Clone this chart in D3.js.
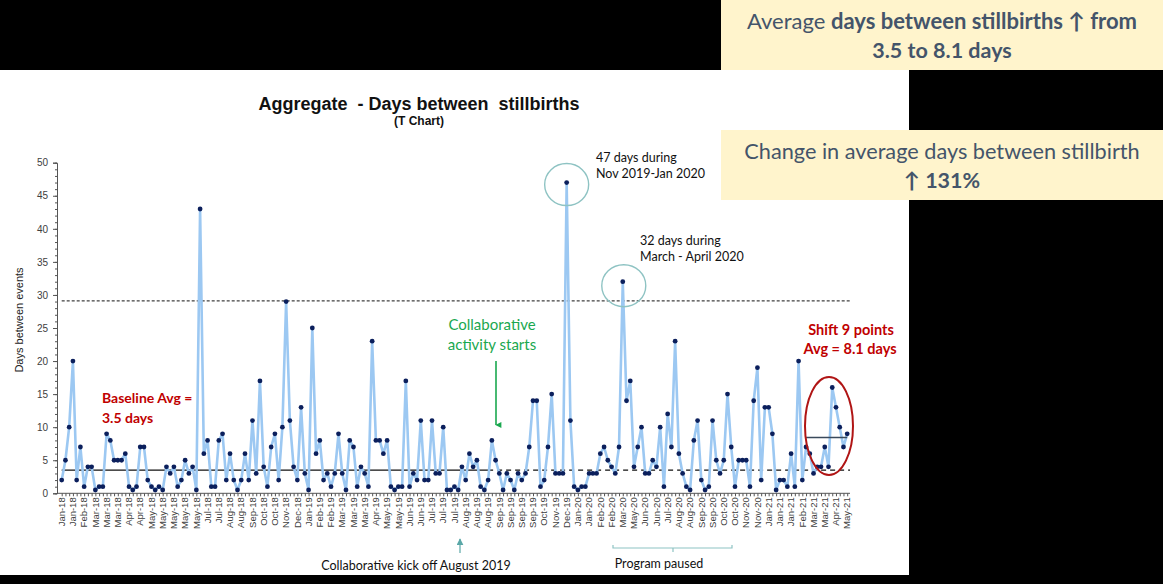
<!DOCTYPE html>
<html><head><meta charset="utf-8">
<script src="https://cdn.jsdelivr.net/npm/d3@7"></script>
<style>body{margin:0;background:#000;} svg{display:block}</style>
</head><body>
<svg id="c" width="1163" height="584"></svg>
<script>
// ---------- DATA ----------
const values = [
  2,5,10,20,2,7,1,4,4,0.5,
  1,1,9,8,5,5,5,6,1,0.5,
  1,7,7,2,1,0.5,1,0.5,4,3,
  4,1,2,5,3,4,0.5,43,6,8,
  1,1,8,9,2,6,2,0.5,2,6,
  2,11,3,17,4,1,7,9,2,10,
  29,11,4,2,13,3,0.5,25,6,8,
  2,3,1,3,9,3,0.5,8,7,1,
  4,3,1,23,8,8,6,8,1,0.5,
  1,1,17,1,3,2,11,2,2,11,
  3,3,10,0.5,0.5,1,0.5,4,2,6,
  4,5,1,0.5,2,8,5,3,0.5,3,
  2,0.5,3,2,3,7,14,14,1,2,
  7,15,3,3,3,47,11,1,0.5,1,
  1,3,3,3,6,7,5,4,3,7,
  32,14,17,4,7,10,3,3,5,4,
  10,1,12,7,23,6,3,1,0.5,8,
  11,2,0.5,1,11,5,3,5,15,7,
  1,5,5,5,1,14,19,2,13,13,
  9,0.5,2,2,1,6,1,20,2,7,
  6,3,4,4,7,4,16,13,10,7,9
];
const tickLabels = [
  "Jan-18","Jan-18","Feb-18","Mar-18","Mar-18","Mar-18","Apr-18","Apr-18","May-18","May-18",
  "May-18","May-18","May-18","Jul-18","Jul-18","Aug-18","Aug-18","Sep-18","Oct-18","Oct-18",
  "Nov-18","Dec-18","Jan-19","Feb-19","Feb-19","Mar-19","Mar-19","Mar-19","Apr-19","May-19",
  "May-19","Jun-19","Jun-19","Jul-19","Jul-19","Jul-19","Aug-19","Aug-19","Aug-19","Sep-19",
  "Sep-19","Sep-19","Sep-19","Oct-19","Nov-19","Dec-19","Jan-20","Jan-20","Feb-20","Feb-20",
  "Mar-20","May-20","Jun-20","Jun-20","Jul-20","Aug-20","Aug-20","Sep-20","Sep-20","Oct-20",
  "Oct-20","Nov-20","Nov-20","Jan-21","Jan-21","Jan-21","Feb-21","Mar-21","Mar-21","Apr-21",
  "May-21"
];
const labelEvery = 3;
const yTicks = [0,5,10,15,20,25,30,35,40,45,50];
const baselineAvg = 3.5;
const baselineSolidEnd = 114;   // index where the baseline turns dashed
const upperLimit = 29.1;
const shiftAvg = 8.45;
const shiftStart = 199;          // index range of the shift line
const shiftEnd = 210;

// ---------- SETUP ----------
const svg = d3.select("#c");
const W = 1163, H = 584;
const ARIAL = "'Liberation Sans', Arial, sans-serif";
const CAL = "Lato, 'Open Sans', sans-serif";

// backgrounds
svg.append("rect").attr("x",0).attr("y",0).attr("width",W).attr("height",H).attr("fill","#000");
svg.append("rect").attr("x",0).attr("y",70).attr("width",909).attr("height",505).attr("fill","#fff");
svg.append("rect").attr("x",721).attr("y",0).attr("width",442).attr("height",70).attr("fill","#fff4cc");
svg.append("rect").attr("x",721).attr("y",130).attr("width",442).attr("height",70).attr("fill","#fff4cc");

const idx = d3.range(values.length);
const x = d3.scaleLinear().domain([0, values.length-1]).range([61.7, 847.2]);
const y = d3.scaleLinear().domain([0, 50]).range([493.3, 162.7]);

// ---------- AXES ----------
const yAxisX = 57;
const gy = svg.append("g").attr("transform",`translate(${yAxisX},0)`)
  .call(d3.axisLeft(y).tickValues(yTicks).tickSize(4).tickPadding(5).tickFormat(d3.format("d")));
gy.select(".domain").attr("stroke","#555");
gy.selectAll(".tick line").attr("stroke","#555");
gy.selectAll("text").attr("font-family",ARIAL).attr("font-size",10).attr("fill","#404040");
svg.append("g").attr("transform",`translate(${yAxisX},0)`)
  .call(d3.axisLeft(y).tickValues(d3.range(0,51,1)).tickSize(2).tickFormat(""))
  .call(g=>g.select(".domain").remove())
  .selectAll(".tick line").attr("stroke","#555");

// x axis
const gx = svg.append("g").attr("transform",`translate(0,${y(0)})`)
  .call(d3.axisBottom(x).tickValues(idx).tickSize(3).tickFormat(""));
gx.select(".domain").attr("d",`M${yAxisX},0H850`).attr("stroke","#555");
gx.selectAll(".tick line").attr("stroke","#555");

// x labels every 3rd point
svg.append("g").selectAll("text").data(tickLabels).join("text")
  .attr("transform",(d,i)=>`translate(${x(i*labelEvery)+3.2},${y(0)+4}) rotate(-90)`)
  .attr("text-anchor","end")
  .attr("font-family",ARIAL).attr("font-size",9.5).attr("fill","#404040")
  .text(d=>d);

// y axis title
svg.append("text").attr("transform","translate(23,320) rotate(-90)")
  .attr("text-anchor","middle").attr("font-family",ARIAL).attr("font-size",11).attr("fill","#222")
  .text("Days between events");

// title
svg.append("text").attr("x",419).attr("y",110).attr("text-anchor","middle")
  .attr("font-family",ARIAL).attr("font-weight","bold").attr("font-size",18).attr("fill","#111")
  .attr("xml:space","preserve").style("white-space","pre")
  .text("Aggregate  - Days between  stillbirths");
svg.append("text").attr("x",419).attr("y",125).attr("text-anchor","middle")
  .attr("font-family",ARIAL).attr("font-weight","bold").attr("font-size",12).attr("fill","#111")
  .text("(T Chart)");

// ---------- REFERENCE LINES ----------
svg.append("line").attr("x1",x(0)).attr("x2",850).attr("y1",y(upperLimit)).attr("y2",y(upperLimit))
  .attr("stroke","#111").attr("stroke-width",1).attr("stroke-dasharray","3,2");
svg.append("line").attr("x1",x(0)).attr("x2",x(baselineSolidEnd)).attr("y1",y(baselineAvg)).attr("y2",y(baselineAvg))
  .attr("stroke","#111").attr("stroke-width",1.3);
svg.append("line").attr("x1",x(baselineSolidEnd)).attr("x2",850).attr("y1",y(baselineAvg)).attr("y2",y(baselineAvg))
  .attr("stroke","#111").attr("stroke-width",1.3).attr("stroke-dasharray","5,4");

// ---------- SERIES ----------
svg.append("path").datum(values)
  .attr("d", d3.line().x((d,i)=>x(i)).y(d=>y(d)))
  .attr("fill","none").attr("stroke","#9cc8f2").attr("stroke-width",2.6).attr("stroke-linejoin","round");

svg.append("line").attr("x1",x(shiftStart)).attr("x2",x(shiftEnd)).attr("y1",y(shiftAvg)).attr("y2",y(shiftAvg))
  .attr("stroke","#3a4a5c").attr("stroke-width",1.6);

svg.append("g").selectAll("circle").data(values).join("circle")
  .attr("cx",(d,i)=>x(i)).attr("cy",d=>y(d)).attr("r",2.4).attr("fill","#0b1f5c");

// ---------- ANNOTATIONS ----------
const i47 = values.indexOf(47), i32 = values.indexOf(32);
svg.append("ellipse").attr("cx",x(i47)).attr("cy",y(47)+2).attr("rx",22).attr("ry",21)
  .attr("fill","none").attr("stroke","#8ec3c3").attr("stroke-width",1.4);
svg.append("ellipse").attr("cx",x(i32)+1).attr("cy",y(32)+4).attr("rx",22).attr("ry",21)
  .attr("fill","none").attr("stroke","#8ec3c3").attr("stroke-width",1.4);
svg.append("ellipse").attr("cx",829).attr("cy",426).attr("rx",24).attr("ry",49)
  .attr("fill","none").attr("stroke","#b01515").attr("stroke-width",2);

function txt(xx, yy, s, opt={}) {
  return svg.append("text").attr("x",xx).attr("y",yy)
    .attr("text-anchor",opt.anchor||"start")
    .attr("font-family",opt.font||CAL).attr("font-size",opt.size||12)
    .attr("font-weight",opt.weight||"normal").attr("fill",opt.fill||"#111").text(s);
}
txt(596,162,"47 days during",{size:12.5});
txt(596,178,"Nov 2019-Jan 2020",{size:12.5});
txt(640,245,"32 days during",{size:12.5});
txt(640,261,"March - April 2020",{size:12.5});

txt(492,330,"Collaborative",{size:15,anchor:"middle",fill:"#1aa84f"});
txt(492,350,"activity starts",{size:15,anchor:"middle",fill:"#1aa84f"});
svg.append("defs").html(`
 <marker id="ag" viewBox="0 0 10 10" refX="5" refY="9" markerWidth="6" markerHeight="7" orient="auto-start-reverse" markerUnits="userSpaceOnUse">
  <path d="M0,0 L10,0 L5,10 z" fill="#1aa84f"/></marker>
 <marker id="at" viewBox="0 0 10 10" refX="5" refY="1" markerWidth="7" markerHeight="7" markerUnits="userSpaceOnUse">
  <path d="M0,10 L10,10 L5,0 z" fill="#5aa7a7"/></marker>`);
svg.append("line").attr("x1",496).attr("x2",496).attr("y1",361).attr("y2",425)
  .attr("stroke","#1aa84f").attr("stroke-width",1.6).attr("marker-end","url(#ag)");

txt(102,403,"Baseline Avg =",{size:14,weight:"bold",fill:"#c00000"});
txt(102,423,"3.5 days",{size:14,weight:"bold",fill:"#c00000"});
txt(851,335,"Shift 9 points",{size:14.5,weight:"bold",fill:"#c00000",anchor:"middle"});
txt(850,354,"Avg = 8.1 days",{size:14.5,weight:"bold",fill:"#c00000",anchor:"middle"});

// bottom annotations
svg.append("line").attr("x1",460).attr("x2",460).attr("y1",553).attr("y2",539)
  .attr("stroke","#5aa7a7").attr("stroke-width",1.2).attr("marker-end","url(#at)");
txt(416,570,"Collaborative kick off August 2019",{size:12.5,anchor:"middle"});
svg.append("path").attr("d","M613,545 V548 H732 V545 M673,548 V552")
  .attr("fill","none").attr("stroke","#8ec3c3").attr("stroke-width",1.2);
txt(659,568,"Program paused",{size:12.5,anchor:"middle"});

// ---------- CALLOUT BOXES ----------
const boxFill = "#44546a";
const t1 = svg.append("text").attr("x",942).attr("y",29).attr("text-anchor","middle")
  .attr("font-family",CAL).attr("font-size",22).attr("fill",boxFill);
t1.append("tspan").text("Average ");
t1.append("tspan").attr("font-weight","bold").text("days between stillbirths \u2191 from");
txt(942,58,"3.5 to 8.1 days",{size:21.5,weight:"bold",fill:boxFill,anchor:"middle"});
txt(942,159,"Change in average days between stillbirth",{size:21.7,fill:boxFill,anchor:"middle"});
txt(942,188,"\u2191 131%",{size:21.5,weight:"bold",fill:boxFill,anchor:"middle"});
</script>
</body></html>
